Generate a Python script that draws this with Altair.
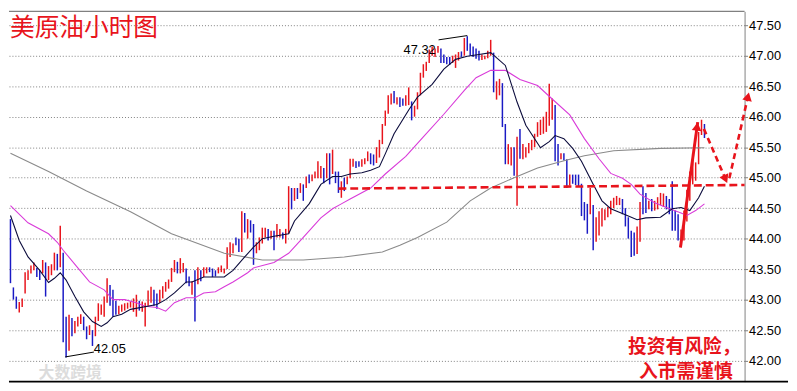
import math
import altair as alt
import pandas as pd

# ---------------- data ----------------
highs = [
    44.32, 43.20, 43.05, 42.96, 43.02, 43.45, 43.48, 43.56, 43.61, 43.52,
    43.48, 43.65, 43.61, 43.55, 43.58, 43.77, 43.75, 44.21, 43.77, 42.72,
    42.75, 42.70, 42.65, 42.72, 42.76, 42.72, 42.56, 42.58, 42.50, 42.72,
    42.94, 42.92, 43.05, 43.35, 43.24, 43.16, 42.98, 42.90, 42.92, 42.94,
    42.95, 42.97, 43.02, 43.08, 42.98, 42.97, 42.95, 43.15, 43.21, 43.16,
    43.10, 43.16, 43.22, 43.29, 43.33, 43.52, 43.65, 43.62, 43.68, 43.60,
    43.51, 43.38, 43.30, 43.48, 43.53, 43.48, 43.53, 43.53, 43.53, 43.51,
    43.48, 43.53, 43.56, 43.51, 43.86, 43.94, 43.92, 44.02, 44.00, 44.45,
    44.42, 44.32, 44.30, 44.24, 43.94, 44.02, 44.18, 44.18, 44.16, 44.13,
    44.13, 44.24, 44.16, 44.10, 44.16, 44.86, 44.83, 44.83, 44.83, 44.91,
    44.89, 45.02, 45.05, 45.05, 45.10, 45.27, 45.19, 45.16, 45.40, 45.40,
    45.46, 45.10, 45.10, 44.94, 45.00, 45.02, 45.31, 45.31, 45.27, 45.27,
    45.30, 45.32, 45.43, 45.40, 45.38, 45.50, 45.62, 45.88, 46.10, 46.35,
    46.38, 46.42, 46.32, 46.32, 46.30, 46.35, 46.48, 46.25, 46.18, 46.40,
    46.72, 46.86, 46.90, 47.10, 47.15, 47.12, 47.16, 47.12, 47.02, 46.98,
    46.98, 47.00, 47.02, 47.06, 47.07, 47.29, 47.32, 47.20, 47.15, 47.12,
    47.08, 47.02, 47.00, 47.08, 47.26, 47.05, 46.58, 46.62, 46.55, 45.88,
    45.55, 45.50, 45.50, 45.67, 45.80, 45.55, 45.50, 45.57, 45.62, 45.72,
    45.91, 45.95, 46.00, 46.08, 46.54, 46.30, 46.19, 45.55, 45.40, 45.40,
    45.30, 45.05, 45.05, 45.05, 45.05, 44.90, 44.60, 44.57, 44.83, 44.55,
    44.35, 44.45, 44.50, 44.48, 44.52, 44.62, 44.67, 44.70, 44.67, 44.65,
    44.50, 44.35, 44.13, 44.10, 44.20, 44.60, 44.86, 44.75, 44.62, 44.65,
    44.62, 44.68, 44.75, 44.74, 44.70, 44.65, 44.94, 44.46, 44.40, 44.15,
    44.46, 44.80, 45.10, 45.31, 45.25, 45.75, 45.95, 45.88,
]
lows = [
    43.27, 43.00, 42.85, 42.79, 42.88, 43.10, 43.32, 43.43, 43.48, 43.37,
    43.32, 43.43, 43.05, 43.32, 43.40, 43.48, 43.48, 43.53, 42.30, 42.05,
    42.16, 42.40, 42.45, 42.56, 42.60, 42.50, 42.35, 42.42, 42.24, 42.40,
    42.65, 42.75, 42.72, 42.95, 42.90, 42.72, 42.75, 42.76, 42.80, 42.82,
    42.85, 42.87, 42.80, 42.72, 42.82, 42.80, 42.56, 42.90, 42.95, 42.90,
    42.85, 42.95, 43.02, 43.13, 43.18, 43.29, 43.45, 43.43, 43.43, 43.45,
    43.27, 43.22, 43.08, 42.64, 43.25, 43.30, 43.37, 43.43, 43.45, 43.37,
    43.38, 43.43, 43.45, 43.43, 43.50, 43.70, 43.76, 43.89, 43.78, 43.78,
    44.10, 44.00, 44.10, 43.57, 43.76, 43.81, 43.92, 44.02, 43.97, 44.00,
    43.81, 44.02, 44.02, 44.00, 43.92, 44.08, 44.48, 44.62, 44.65, 44.75,
    44.62, 44.83, 44.91, 44.94, 44.99, 44.99, 44.99, 44.91, 44.99, 44.89,
    45.06, 44.91, 44.75, 44.67, 44.78, 44.89, 44.99, 45.18, 45.16, 45.18,
    45.18, 45.22, 45.27, 45.22, 45.20, 45.24, 45.33, 45.55, 45.85, 46.05,
    46.20, 46.22, 46.20, 46.16, 46.18, 46.18, 46.19, 45.94, 46.00, 46.12,
    46.35, 46.64, 46.75, 46.88, 47.00, 46.98, 47.05, 46.88, 46.88, 46.86,
    46.85, 46.88, 46.80, 46.92, 46.98, 47.00, 47.08, 47.00, 46.98, 46.95,
    46.92, 46.93, 46.94, 46.96, 47.00, 46.40, 46.28, 46.35, 45.83, 45.22,
    45.22, 45.20, 45.03, 44.54, 45.31, 45.30, 45.33, 45.40, 45.45, 45.50,
    45.67, 45.70, 45.72, 45.75, 45.85, 45.95, 45.27, 45.20, 45.30, 45.28,
    44.83, 44.87, 44.90, 44.88, 44.85, 44.37, 44.30, 44.08, 44.40, 43.81,
    43.95, 44.05, 44.20, 44.30, 44.35, 44.40, 44.50, 44.55, 44.55, 44.40,
    44.20, 44.00, 43.70, 43.72, 43.75, 43.95, 44.40, 44.42, 44.48, 44.45,
    44.46, 44.48, 44.55, 44.52, 44.48, 44.40, 44.13, 44.13, 43.97, 43.86,
    43.97, 44.28, 44.62, 44.89, 44.95, 45.22, 45.70, 45.65,
]
dirs = list(
    "ddduuuuuud" "duduuududd" "uduuuddudu" "uuuuddduuu" "uuuuduuuud"
    "duuuuuuduu" "ddududuudd" "duuuuuuddu" "dudduuuudu" "duuduududu"
    "duduuuudud" "udduduuudd" "uuudduuuuu" "ududduuduu" "uuuuuuuddd"
    "duuududddd" "duuuuduudd" "uududuuuuu" "uuuuuuddud" "duddddddud"
    "uuuuuuuuud" "dddduuddud" "uuuudddddu" "uuuuuuud"
)

fast_idx = [0, 3, 6, 10, 13, 15, 17, 19, 22, 25, 28, 31, 33, 35, 38, 41,
            50, 53, 56, 60, 62, 66, 73, 76, 80, 83, 86, 90, 95, 97, 102, 106,
            110, 113, 116, 120, 123, 126, 128, 131, 136, 139, 144, 148, 152,
            156, 160, 164, 169, 173, 176, 181, 184, 186, 189, 192, 195, 199,
            202, 205, 210, 214, 217, 222, 226, 229, 232, 235, 237]
fast_val = [44.38, 43.97, 43.70, 43.48, 43.28, 43.35, 43.44, 43.32, 43.05,
            42.80, 42.64, 42.56, 42.62, 42.72, 42.76, 42.84,
            42.92, 43.00, 43.11, 43.29, 43.29, 43.37, 43.37, 43.48, 43.70,
            43.86, 44.00, 44.04, 44.08, 44.29, 44.57, 44.89, 45.02, 45.02,
            45.06, 45.08, 45.12, 45.18, 45.39, 45.72, 46.11, 46.32, 46.53,
            46.78, 46.94, 46.99, 47.02, 47.05, 46.84, 46.24, 45.86, 45.49,
            45.59, 45.69, 45.64, 45.48, 45.27, 44.89, 44.62, 44.49, 44.39,
            44.31, 44.34, 44.35, 44.49, 44.51, 44.46, 44.67, 44.86]

mid_idx = [0, 6, 13, 16, 18, 23, 27, 32, 35, 39, 43, 46, 50, 53, 56, 60, 63,
           66, 70, 73, 76, 81, 83, 90, 95, 100, 106, 110, 113, 116, 123, 128,
           135, 141, 148, 155, 159, 164, 169, 174, 180, 185, 191, 196, 201,
           205, 209, 212, 215, 220, 224, 229, 231, 234, 237]
mid_val = [44.54, 44.26, 44.08, 43.94, 43.81, 43.52, 43.29, 43.16, 43.00,
           43.00, 42.95, 42.89, 42.87, 42.81, 42.95, 43.03, 43.03, 43.11,
           43.13, 43.21, 43.29, 43.44, 43.52, 43.61, 43.76, 44.02, 44.34,
           44.49, 44.57, 44.65, 44.83, 45.06, 45.35, 45.67, 46.04, 46.43,
           46.64, 46.76, 46.76, 46.61, 46.51, 46.29, 46.03, 45.64, 45.31,
           45.07, 44.99, 44.89, 44.73, 44.59, 44.51, 44.42, 44.38, 44.46,
           44.57]

slow_idx = [0, 13, 26, 41, 55, 73, 86, 100, 114, 127, 133, 139, 149, 157,
            164, 172, 180, 190, 196, 206, 222, 237]
slow_val = [45.40, 45.10, 44.78, 44.44, 44.08, 43.76, 43.65, 43.65, 43.70,
            43.78, 43.89, 44.02, 44.27, 44.62, 44.83, 45.00, 45.16, 45.29,
            45.36, 45.44, 45.48, 45.49]

y_ticks = [42.0, 42.5, 43.0, 43.5, 44.0, 44.5, 45.0, 45.5, 46.0, 46.5, 47.0, 47.5]

support_start = 112
support_vals = [44.82, 44.88]

arrow_x0 = [228.8, 236.8, 245.5]
arrow_y0 = [43.855, 45.80, 44.99]
arrow_x1 = [234.7, 244.8, 252.2]
arrow_y1 = [45.91, 44.91, 46.40]
arrow_kind = ["solid", "dashed", "dashed"]

hi_label, hi_idx, hi_val = "47.32", 156, 47.32
lo_label, lo_idx, lo_val = "42.05", 19, 42.05
hi_link = ([146.2, 156.0], [47.26, 47.33])
lo_link = ([18.7, 28.5], [42.06, 42.14])

title_text = "美原油小时图"
warn_1 = "投资有风险，"
warn_2 = "入市需谨慎"
mark_text = "大数跨境"

# ---------------- layout / style ----------------
W, H = 745, 375
X_DOM = [-0.506, 250.7]
Y_DOM = [41.655, 47.727]
RED = "#e8141c"
BLUE = "#1a1ac4"
GRID = "#808080"

xs = alt.Scale(domain=X_DOM, nice=False, zero=False)
ys = alt.Scale(domain=Y_DOM, nice=False, zero=False)

y_axis = alt.Axis(orient="right", values=y_ticks, format=".2f", grid=True,
                  gridColor=GRID, gridDash=[1, 2], gridWidth=1, gridOpacity=1,
                  domain=True, domainColor=GRID, ticks=True, tickColor=GRID,
                  tickSize=3, labelFont="Liberation Sans", labelFontSize=13,
                  labelColor="#000000", labelPadding=1, title=None)

X = lambda f: alt.X(f, type="quantitative", scale=xs, axis=None)
Y = lambda f: alt.Y(f, type="quantitative", scale=ys, axis=y_axis)

bars_df = pd.DataFrame({"idx": list(range(len(highs))), "high": highs,
                        "low": lows, "dir": dirs})

bars = alt.Chart(bars_df).mark_rule(strokeWidth=1.5).encode(
    x=X("idx"),
    y=Y("low"),
    y2="high:Q",
    color=alt.Color("dir:N", scale=alt.Scale(domain=["u", "d"], range=[RED, BLUE]),
                    legend=None),
)

def ma_layer(idx, val, color):
    df = pd.DataFrame({"idx": idx, "val": val})
    return alt.Chart(df).mark_line(color=color, strokeWidth=1.1).encode(
        x=X("idx"), y=Y("val"), order="idx:Q")

slow = ma_layer(slow_idx, slow_val, "#8a8a8a")
mid = ma_layer(mid_idx, mid_val, "#d93ad9")
fast = ma_layer(fast_idx, fast_val, "#0b0b3c")

sup_df = pd.DataFrame({"x0": [support_start], "x1": [X_DOM[1]],
                       "y0": [support_vals[0]], "y1": [support_vals[1]]})
support = alt.Chart(sup_df).mark_rule(color=RED, strokeWidth=2.6,
                                      strokeDash=[8, 4]).encode(
    x=X("x0"), x2="x1", y=Y("y0"), y2="y1")

kx = W / (X_DOM[1] - X_DOM[0])
ky = H / (Y_DOM[1] - Y_DOM[0])
heads = []
for x0, y0, x1, y1 in zip(arrow_x0, arrow_y0, arrow_x1, arrow_y1):
    dxp = (x1 - x0) * kx
    dyp = (y1 - y0) * ky
    L = math.hypot(dxp, dyp)
    ang = math.degrees(math.atan2(dxp, dyp)) % 360
    back = 4.5
    heads.append({"hx": x1 - dxp / L * back / kx, "hy": y1 - dyp / L * back / ky,
                  "angle": ang})

arr_df = pd.DataFrame({"x0": arrow_x0, "y0": arrow_y0, "x1": arrow_x1,
                       "y1": arrow_y1, "kind": arrow_kind})
head_df = pd.DataFrame(heads)

arrow_solid = alt.Chart(arr_df[arr_df.kind == "solid"]).mark_rule(
    color=RED, strokeWidth=3).encode(x=X("x0"), x2="x1", y=Y("y0"), y2="y1")
arrow_dash = alt.Chart(arr_df[arr_df.kind == "dashed"]).mark_rule(
    color=RED, strokeWidth=2.6, strokeDash=[6, 4]).encode(
    x=X("x0"), x2="x1", y=Y("y0"), y2="y1")
arrow_heads = alt.Chart(head_df).mark_point(
    shape="triangle-up", filled=True, color=RED, size=95, opacity=1).encode(
    x=X("hx"), y=Y("hy"), angle=alt.Angle("angle:Q", scale=None))

link_df = pd.DataFrame({"x0": [hi_link[0][0], lo_link[0][0]],
                        "x1": [hi_link[0][1], lo_link[0][1]],
                        "y0": [hi_link[1][0], lo_link[1][0]],
                        "y1": [hi_link[1][1], lo_link[1][1]]})
links = alt.Chart(link_df).mark_rule(color="#000000", strokeWidth=1).encode(
    x=X("x0"), x2="x1", y=Y("y0"), y2="y1")

hl_df = pd.DataFrame({"idx": [hi_idx, lo_idx], "val": [hi_val, lo_val],
                      "txt": [hi_label, lo_label], "side": ["hi", "lo"]})
hi_txt = alt.Chart(hl_df[hl_df.side == "hi"]).mark_text(
    align="right", baseline="alphabetic", dx=-32, dy=18, font="Liberation Sans",
    fontSize=13, color="#000000").encode(x=X("idx"), y=Y("val"), text="txt:N")
lo_txt = alt.Chart(hl_df[hl_df.side == "lo"]).mark_text(
    align="left", baseline="alphabetic", dx=28, dy=-5, font="Liberation Sans",
    fontSize=13, color="#000000").encode(x=X("idx"), y=Y("val"), text="txt:N")

one = pd.DataFrame({"t": [title_text], "w1": [warn_1], "w2": [warn_2], "m": [mark_text]})
title = alt.Chart(one).mark_text(align="left", baseline="middle",
                                 font="Noto Sans CJK SC", fontSize=25,
                                 color=RED).encode(
    x=alt.value(1), y=alt.value(17), text="t:N")
w1 = alt.Chart(one).mark_text(align="left", baseline="middle",
                              font="Noto Sans CJK SC", fontSize=19,
                              fontWeight="bold", color=RED).encode(
    x=alt.value(627), y=alt.value(340), text="w1:N")
w2 = alt.Chart(one).mark_text(align="left", baseline="middle",
                              font="Noto Sans CJK SC", fontSize=19,
                              fontWeight="bold", color=RED).encode(
    x=alt.value(638), y=alt.value(365), text="w2:N")
wm = alt.Chart(one).mark_text(align="left", baseline="middle",
                              font="Noto Sans CJK SC", fontSize=16,
                              fontWeight="bold", color="#dcdcdc").encode(
    x=alt.value(30), y=alt.value(366), text="m:N")

top_line = alt.Chart(one).mark_rule(color=GRID, strokeWidth=1.5).encode(
    x=alt.value(0), x2=alt.value(W), y=alt.value(0))
bottom_line = alt.Chart(one).mark_rule(color="#000000", strokeWidth=2).encode(
    x=alt.value(0), x2=alt.value(W + 44), y=alt.value(H))

chart = alt.layer(
    bars, slow, mid, fast, support, arrow_solid, arrow_dash, arrow_heads,
    links, hi_txt, lo_txt, wm, title, w1, w2, top_line, bottom_line,
).properties(width=W, height=H, padding=0, background="#ffffff").configure_view(
    strokeWidth=0)

chart.save("out.html", embed_options={"renderer": "svg", "actions": False})
